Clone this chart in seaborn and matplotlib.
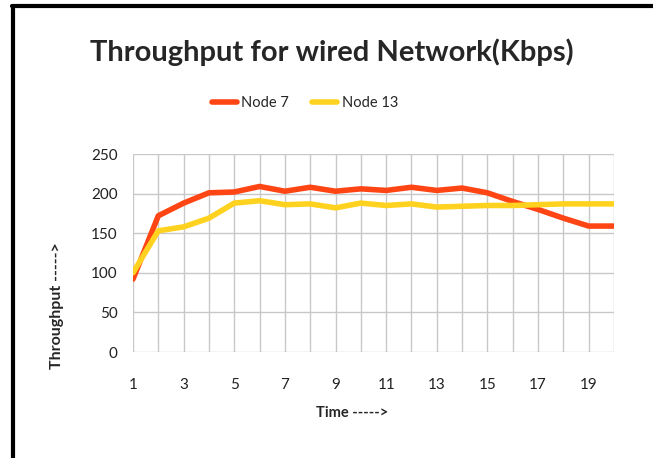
import numpy as np
import pandas as pd
import matplotlib
matplotlib.use("Agg")
import matplotlib.pyplot as plt
import seaborn as sns
from matplotlib.lines import Line2D

# data
time = list(range(1, 21))
node7 = [92, 172, 188, 201, 202, 209, 203, 208, 203, 206,
         204, 208, 204, 207, 201, 190, 180, 169, 159, 159]
node13 = [100, 153, 158, 169, 188, 191, 186, 187, 182, 188,
          185, 187, 183, 184, 185, 185, 186, 187, 187, 187]
series_names = ["Node 7", "Node 13"]
colors = ["#FF4514", "#FFD21F"]
x_ticks = [1, 3, 5, 7, 9, 11, 13, 15, 17, 19]
y_ticks = [0, 50, 100, 150, 200, 250]

df = pd.DataFrame({"Time": time * 2,
                   "Throughput": node7 + node13,
                   "Node": [series_names[0]] * 20 + [series_names[1]] * 20})

sns.set_style("white")
plt.rcParams["font.family"] = ["Lato", "DejaVu Sans"]

fig = plt.figure(figsize=(6.53, 4.58), dpi=100)
ax = fig.add_axes([133 / 653, 1 - 352 / 458, (614 - 133) / 653, (352 - 154) / 458])

sns.lineplot(data=df, x="Time", y="Throughput", hue="Node",
             palette=colors, linewidth=4, ax=ax, legend=False)

ax.set_xlim(1, 20)
ax.set_ylim(0, 250)
ax.set_xticks(time)
ax.set_xticklabels([str(t) if t in x_ticks else "" for t in time])
ax.set_yticks(y_ticks)
ax.grid(True, color="#c8c8c8", linewidth=1)
ax.set_axisbelow(True)
for s in ax.spines.values():
    s.set_visible(False)
ax.tick_params(axis="both", color="#c8c8c8", labelsize=11,
               labelcolor="#222222")
ax.tick_params(axis="x", length=5, pad=14)
ax.tick_params(axis="y", length=3, pad=8)
ax.set_xlabel("")
ax.set_ylabel("")

fig.text(332 / 653, 1 - 52 / 458, "Throughput for wired Network(Kbps)",
         ha="center", va="center", fontsize=21, fontweight="bold")
fig.text(352 / 653, 1 - 413 / 458, "Time ----->", ha="center", va="center",
         fontsize=10.5, fontweight="bold")
fig.text(57 / 653, 1 - 306 / 458, "Throughput ----->", ha="center",
         va="center", rotation=90, fontsize=11.5, fontweight="bold")

handles = [Line2D([], [], color=c, linewidth=4) for c in colors]
fig.legend(handles, series_names, loc="center", ncol=2, frameon=False,
           bbox_to_anchor=(305 / 653, 1 - 103 / 458), fontsize=10.5,
           handlelength=1.7, handletextpad=0.3, columnspacing=1.6)

# black frame on left and top
fig.add_artist(Line2D([13 / 653, 13 / 653], [0, 1 - 6 / 458], color="black",
                      linewidth=3, transform=fig.transFigure))
fig.add_artist(Line2D([12 / 653, 1], [1 - 6 / 458, 1 - 6 / 458], color="black",
                      linewidth=3, transform=fig.transFigure))

fig.savefig("out.png", dpi=100)
